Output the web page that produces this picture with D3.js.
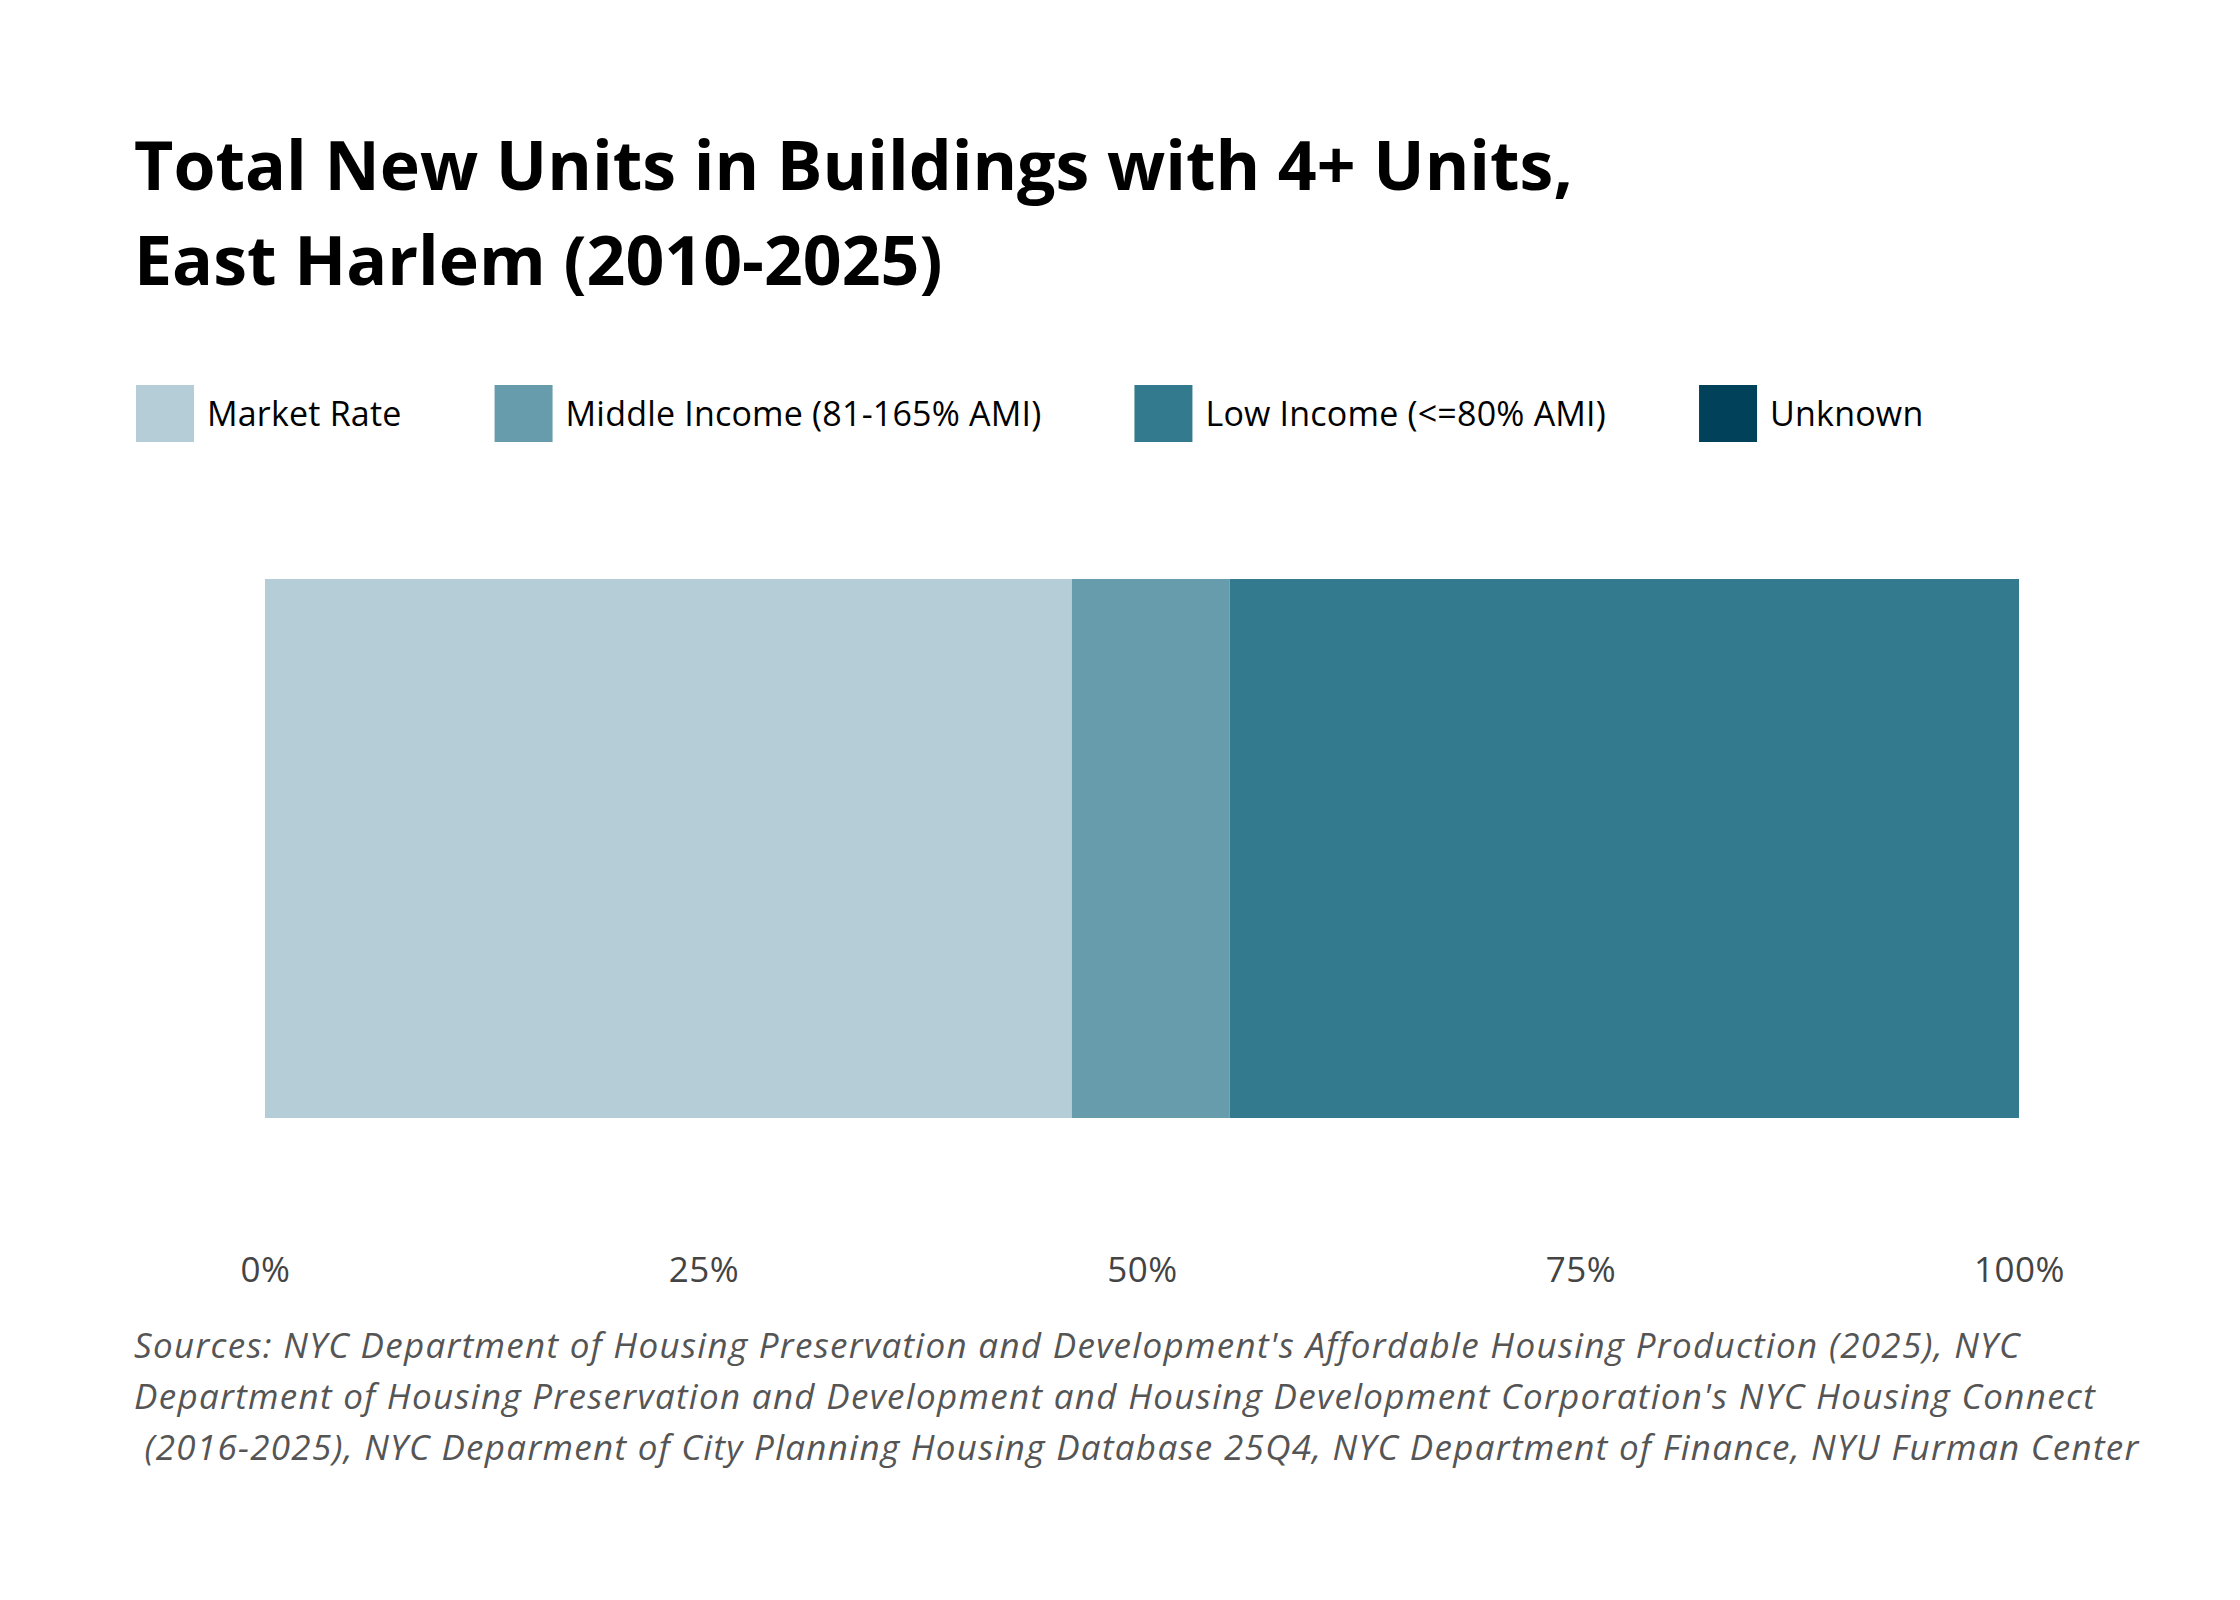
<!DOCTYPE html>
<html>
<head>
<meta charset="utf-8">
<script src="https://cdn.jsdelivr.net/npm/d3@7"></script>
<style>
  body { margin: 0; background: #fff; }
  text { font-family: "Open Sans", Roboto, sans-serif; }
</style>
</head>
<body>
<div id="chart"></div>
<script>
// Data
const categories = ['Market Rate', 'Middle Income (81-165% AMI)', 'Low Income (<=80% AMI)', 'Unknown'];
const shares = [0.46, 0.09, 0.45, 0.0];
const neighborhood = ['East Harlem'];
const tickValues = [0, 0.25, 0.5, 0.75, 1];
const colors = ['#b4cdd6', '#669cab', '#337a8f', '#02415a'];
const titleLines = ['Total New Units in Buildings with 4+ Units,', 'East Harlem (2010-2025)'];
const sourceLines = [
  "Sources: NYC Department of Housing Preservation and Development's Affordable Housing Production (2025), NYC",
  "Department of Housing Preservation and Development and Housing Development Corporation's NYC Housing Connect",
  " (2016-2025), NYC Deparment of City Planning Housing Database 25Q4, NYC Department of Finance, NYU Furman Center"
];

const width = 2240;
const height = 1600;
const margin = { top: 579, left: 265, bottom: 482, right: 221 };

const svg = d3.select('#chart')
  .append('svg')
    .attr('width', width)
    .attr('height', height);

// Title
svg.append('g')
  .selectAll('text')
  .data(titleLines)
  .join('text')
    .attr('x', 134)
    .attr('y', (d, i) => 190 + i * 95)
    .style('font-size', '68px')
    .style('font-weight', 700)
    .style('fill', '#000')
    .text((d) => d);

// Legend
const legend = svg.append('g').attr('transform', 'translate(136,385)');
let lx = 0;
categories.forEach((c, i) => {
  const item = legend.append('g').attr('transform', `translate(${lx},0)`);
  item.append('rect')
    .attr('width', 58)
    .attr('height', 57)
    .style('fill', colors[i]);
  const t = item.append('text')
    .attr('x', 71)
    .attr('y', 41)
    .style('font-size', '34px')
    .style('letter-spacing', '0.2px')
    .style('fill', '#000')
    .text(c);
  lx += 71 + t.node().getComputedTextLength() + 93;
});

// Scales
const xScale = d3.scaleLinear()
  .domain([0, 1])
  .range([margin.left, width - margin.right]);

const yScale = d3.scaleBand()
  .domain(neighborhood)
  .range([margin.top, height - margin.bottom]);

// Stack
const row = { name: neighborhood[0] };
categories.forEach((c, i) => { row[c] = shares[i]; });
const series = d3.stack().keys(categories)([row]);

svg.append('g')
  .selectAll('rect')
  .data(series)
  .join('rect')
    .attr('x', (s) => xScale(s[0][0]))
    .attr('y', yScale(neighborhood[0]))
    .attr('width', (s) => xScale(s[0][1]) - xScale(s[0][0]))
    .attr('height', yScale.bandwidth())
    .style('fill', (s, i) => colors[i]);

// Axis
const xAxis = svg.append('g')
  .attr('transform', 'translate(0,1257)')
  .call(d3.axisBottom(xScale)
    .tickValues(tickValues)
    .tickFormat(d3.format('.0%'))
    .tickSize(0)
    .tickPadding(0));
xAxis.select('.domain').remove();
xAxis.selectAll('text')
  .style('font-family', '"Open Sans", Roboto, sans-serif')
  .style('font-size', '35px')
  .style('letter-spacing', '0.5px')
  .style('fill', '#444');

// Sources
svg.append('g')
  .selectAll('text')
  .data(sourceLines)
  .join('text')
    .attr('x', 134)
    .attr('y', (d, i) => 1358 + i * 51)
    .style('font-size', '35px')
    .style('letter-spacing', '1.3px')
    .style('font-style', 'italic')
    .style('fill', '#555')
    .style('white-space', 'pre')
    .text((d) => d);
</script>
</body>
</html>
